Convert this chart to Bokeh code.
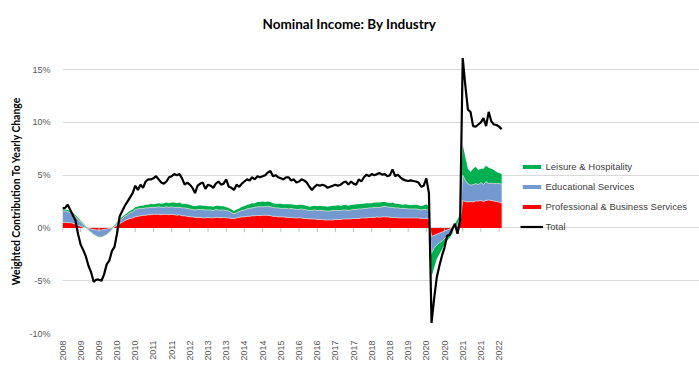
import numpy as np
from bokeh.plotting import figure
from bokeh.models import Range1d, FixedTicker, Legend, LegendItem, ColumnDataSource
from bokeh.embed import file_html
from bokeh.resources import INLINE

# ---- data (monthly, Jun 2008 .. Jul 2022), weighted contribution to YoY change, % ----
tick_labels = ["2008", "2009", "2009", "2010", "2010", "2011", "2011", "2012", "2013",
               "2013", "2014", "2014", "2015", "2016", "2016", "2017", "2017", "2018",
               "2018", "2019", "2020", "2020", "2021", "2021", "2022"]
y_ticks = [-10, -5, 0, 5, 10, 15]

prof = [0.50, 0.55, 0.50, 0.50, 0.45, 0.35, 0.25, 0.15, 0.05, 0.00,
        -0.05, -0.10, -0.15, -0.20, -0.20, -0.20, -0.15, -0.10, -0.05, 0.00,
        0.10, 0.25, 0.40, 0.55, 0.70, 0.80, 0.90, 0.95, 1.05, 1.10,
        1.15, 1.20, 1.20, 1.25, 1.25, 1.30, 1.30, 1.30, 1.25, 1.30,
        1.30, 1.25, 1.30, 1.25, 1.20, 1.25, 1.15, 1.15, 1.10, 1.05,
        1.05, 1.00, 1.00, 1.00, 0.95, 0.95, 1.00, 0.95, 0.95, 1.00,
        1.00, 0.95, 1.00, 0.95, 0.95, 0.90, 0.90, 0.95, 1.00, 1.05,
        1.05, 1.10, 1.10, 1.15, 1.15, 1.20, 1.15, 1.20, 1.20, 1.20,
        1.15, 1.10, 1.10, 1.05, 1.05, 1.05, 1.00, 1.00, 1.00, 0.95,
        0.95, 0.95, 0.95, 0.90, 0.90, 0.85, 0.85, 0.85, 0.80, 0.80,
        0.80, 0.75, 0.75, 0.75, 0.75, 0.80, 0.80, 0.80, 0.85, 0.85,
        0.85, 0.85, 0.90, 0.90, 0.90, 0.95, 0.95, 0.95, 1.00, 1.00,
        1.00, 1.05, 1.00, 1.05, 1.05, 1.05, 1.00, 1.00, 1.00, 0.95,
        0.95, 0.95, 0.95, 0.95, 0.95, 0.95, 0.95, 0.95, 0.90, 0.90,
        0.90, 0.85, -0.80, -0.70, -0.60, -0.50, -0.40, -0.30, -0.20, -0.10,
        0.00, 0.05, 0.15, 0.50, 2.60, 2.50, 2.45, 2.50, 2.45, 2.55,
        2.55, 2.60, 2.50, 2.60, 2.65, 2.60, 2.55, 2.50, 2.45, 2.35]

edu = [1.10, 1.05, 1.05, 0.95, 0.85, 0.70, 0.55, 0.40, 0.30, 0.05,
       -0.15, -0.30, -0.45, -0.55, -0.65, -0.65, -0.60, -0.50, -0.35, -0.15,
       0.05, 0.20, 0.30, 0.35, 0.40, 0.45, 0.55, 0.60, 0.70, 0.70,
       0.70, 0.65, 0.70, 0.65, 0.70, 0.65, 0.65, 0.70, 0.70, 0.65,
       0.70, 0.70, 0.70, 0.70, 0.75, 0.70, 0.75, 0.75, 0.75, 0.75,
       0.70, 0.70, 0.75, 0.75, 0.80, 0.75, 0.70, 0.75, 0.70, 0.75,
       0.70, 0.75, 0.70, 0.70, 0.65, 0.55, 0.45, 0.50, 0.55, 0.60,
       0.65, 0.70, 0.75, 0.75, 0.80, 0.80, 0.85, 0.80, 0.80, 0.85,
       0.85, 0.85, 0.80, 0.85, 0.80, 0.80, 0.85, 0.80, 0.85, 0.85,
       0.80, 0.80, 0.85, 0.85, 0.80, 0.80, 0.80, 0.85, 0.85, 0.85,
       0.85, 0.85, 0.85, 0.85, 0.90, 0.85, 0.85, 0.85, 0.85, 0.85,
       0.80, 0.85, 0.85, 0.85, 0.90, 0.85, 0.90, 0.90, 0.90, 0.90,
       0.95, 0.90, 0.95, 0.95, 1.00, 0.95, 0.95, 0.95, 0.90, 0.95,
       0.90, 0.90, 0.90, 0.85, 0.85, 0.85, 0.85, 0.80, 0.80, 0.85,
       0.85, 0.80, -1.60, -1.20, -1.05, -0.90, -0.85, -0.70, -0.55, -0.45,
       -0.30, 0.10, 0.20, 0.35, 2.40, 2.00, 1.75, 1.55, 1.65, 1.65,
       1.55, 1.70, 1.60, 1.80, 1.55, 1.65, 1.65, 1.70, 1.75, 1.80]

leis = [0.15, 0.15, 0.15, 0.15, 0.15, 0.15, 0.15, 0.12, 0.10, 0.10,
        0.05, 0.03, 0.03, 0.03, 0.03, 0.03, 0.03, 0.05, 0.05, 0.08,
        0.10, 0.12, 0.12, 0.15, 0.15, 0.18, 0.18, 0.20, 0.20, 0.22,
        0.25, 0.25, 0.30, 0.30, 0.35, 0.30, 0.35, 0.35, 0.35, 0.40,
        0.40, 0.40, 0.40, 0.45, 0.40, 0.45, 0.40, 0.40, 0.40, 0.40,
        0.35, 0.35, 0.35, 0.40, 0.35, 0.40, 0.35, 0.35, 0.35, 0.35,
        0.40, 0.35, 0.35, 0.30, 0.30, 0.30, 0.25, 0.30, 0.30, 0.35,
        0.35, 0.40, 0.40, 0.45, 0.40, 0.45, 0.45, 0.50, 0.45, 0.45,
        0.45, 0.40, 0.40, 0.40, 0.45, 0.40, 0.40, 0.45, 0.40, 0.40,
        0.40, 0.45, 0.40, 0.40, 0.40, 0.35, 0.40, 0.40, 0.40, 0.45,
        0.40, 0.45, 0.40, 0.45, 0.45, 0.45, 0.50, 0.45, 0.45, 0.50,
        0.45, 0.50, 0.45, 0.50, 0.45, 0.50, 0.45, 0.50, 0.45, 0.45,
        0.45, 0.45, 0.45, 0.45, 0.40, 0.40, 0.40, 0.45, 0.40, 0.40,
        0.40, 0.35, 0.40, 0.40, 0.35, 0.40, 0.40, 0.40, 0.35, 0.40,
        0.50, 0.40, -2.20, -1.90, -1.30, -1.10, -0.80, -0.55, -0.45, -0.35,
        -0.25, 0.25, 0.45, 0.45, 2.90, 2.20, 1.40, 1.25, 1.50, 1.60,
        1.40, 1.30, 1.50, 1.50, 1.50, 1.35, 1.30, 1.10, 1.00, 0.95]

total = [1.85, 1.9, 2.2, 1.7, 1.2, 0.7, -0.6, -1.6, -2.1, -2.7,
         -3.6, -4.2, -5.1, -4.9, -4.9, -5.0, -4.4, -3.45, -3.1, -2.2,
         -1.8, -0.5, 1.1, 1.6, 2.1, 2.5, 2.9, 3.3, 4.0, 3.6,
         4.1, 3.8, 4.4, 4.6, 4.6, 4.7, 4.9, 4.6, 4.3, 4.2,
         4.4, 4.8, 4.9, 5.1, 5.0, 5.1, 4.7, 4.1, 4.3, 4.1,
         3.8, 3.3, 4.0, 4.2, 4.3, 3.7, 4.1, 4.0, 3.8, 4.2,
         4.4, 4.1, 4.2, 4.6, 3.9, 3.8, 3.6, 4.1, 3.9, 4.2,
         4.4, 4.6, 4.5, 4.8, 4.6, 4.9, 4.8, 4.9, 5.0, 5.25,
         5.4, 4.9, 5.0, 4.8, 4.7, 4.6, 4.8, 4.8, 4.5, 4.6,
         4.3, 4.4, 4.6, 4.5, 4.3, 3.9, 3.6, 3.9, 4.1, 4.0,
         4.1, 4.0, 3.8, 3.9, 4.0, 4.1, 4.0, 4.1, 4.3, 4.4,
         4.1, 4.4, 4.2, 4.1, 4.6, 4.4, 4.8, 5.05, 4.9, 5.1,
         5.0, 5.1, 5.2, 5.05, 5.1, 4.9, 5.0, 5.55, 4.9, 5.05,
         4.8, 4.6, 4.5, 4.45, 4.5, 4.45, 4.4, 4.3, 3.9, 4.0,
         4.7, 3.3, -9.0, -6.7, -4.7, -3.6, -2.65, -1.85, -0.75, -0.65,
         -0.1, 0.4, -0.55, 0.7, 16.1, 13.5, 11.2, 11.0, 9.65, 9.6,
         9.8, 10.0, 10.4, 9.65, 11.0, 10.1, 9.8, 9.75, 9.6, 9.35]

series_names = ["Professional & Business Services", "Educational Services", "Leisure & Hospitality"]
series_colors = ["#ff0000", "#7399d0", "#00b050"]

# ---- layout constants (pixels) ----
W, H = 699, 369
FRAME_LEFT, DATA_RIGHT = 62, 501.2   # data area spans these pixels; legend sits right of it

# ---- build ----
n = len(total)
x = np.arange(n)
c1 = np.array(prof)
c2 = c1 + np.array(edu)
src = ColumnDataSource(dict(x=x, prof=prof, edu=edu, leis=leis, total=total, c1=c1, c2=c2))
tick_idx = list(range(0, n, 7))[:len(tick_labels)]

px_per_unit = (DATA_RIGHT - FRAME_LEFT) / (n - 1)
x_end = (W - FRAME_LEFT) / px_per_unit

p = figure(width=W, height=H, x_range=Range1d(0, x_end), y_range=Range1d(-10, 17),
           output_backend="svg", toolbar_location=None,
           min_border_left=FRAME_LEFT, min_border_right=0, min_border_top=48, min_border_bottom=36)
p.outline_line_color = None
p.background_fill_color = "white"
p.border_fill_color = "white"

areas = p.varea_stack(["prof", "edu", "leis"], x="x", color=series_colors, source=src)
p.line("x", "c1", source=src, line_color="#d6d6d6", line_width=0.8)
p.line("x", "c2", source=src, line_color="#d6d6d6", line_width=0.8)
p.segment(x0=tick_idx, y0=[0] * len(tick_idx), x1=tick_idx, y1=[-0.4] * len(tick_idx),
          line_color="#bfbfbf", line_width=1)
tot = p.line("x", "total", source=src, line_color="#000000", line_width=2.2)

# title
p.title.text = "Nominal Income: By Industry"
p.title.text_font = "Lato"
p.title.text_font_style = "bold"
p.title.text_font_size = "13.5px"
p.title.text_color = "#000000"
p.title.align = "left"
p.title.vertical_align = "top"
p.title.offset = 200
p.title.standoff = 30

# axes
p.xgrid.visible = False
p.ygrid.ticker = FixedTicker(ticks=y_ticks)
p.ygrid.grid_line_color = "#d9d9d9"
p.ygrid.grid_line_width = 1
p.ygrid.bounds = (0, n - 1)

p.yaxis.ticker = FixedTicker(ticks=y_ticks)
p.yaxis.major_label_overrides = {t: f"{t}%" for t in y_ticks}
p.yaxis.axis_line_color = None
p.yaxis.major_tick_line_color = None
p.yaxis.minor_tick_line_color = None
p.yaxis.major_tick_out = 0
p.yaxis.minor_tick_out = 0
p.yaxis.major_label_standoff = 12
p.yaxis.major_label_text_font = "Liberation Sans"
p.yaxis.major_label_text_font_size = "9px"
p.yaxis.major_label_text_color = "#595959"
p.yaxis.axis_label = "Weighted Contribution To Yearly Change"
p.yaxis.axis_label_text_font = "Lato"
p.yaxis.axis_label_text_font_style = "bold"
p.yaxis.axis_label_text_font_size = "10.4px"
p.yaxis.axis_label_text_color = "#000000"
p.yaxis.axis_label_standoff = 4

p.xaxis.ticker = FixedTicker(ticks=tick_idx)
p.xaxis.major_label_overrides = {t: lab for t, lab in zip(tick_idx, tick_labels)}
p.xaxis.major_label_orientation = np.pi / 2
p.xaxis.axis_line_color = None
p.xaxis.major_tick_line_color = None
p.xaxis.minor_tick_line_color = None
p.xaxis.major_tick_out = 0
p.xaxis.minor_tick_out = 0
p.xaxis.major_label_standoff = 7
p.xaxis.major_label_text_font = "Liberation Sans"
p.xaxis.major_label_text_font_size = "9px"
p.xaxis.major_label_text_color = "#595959"

# legend (inside the wide frame, to the right of the data)
items = [LegendItem(label=series_names[2], renderers=[areas[2]]),
         LegendItem(label=series_names[1], renderers=[areas[1]]),
         LegendItem(label=series_names[0], renderers=[areas[0]]),
         LegendItem(label="Total", renderers=[tot])]
legend = Legend(items=items, location=(457.5, 101), glyph_width=23, glyph_height=5,
                label_height=11, spacing=9, padding=0, margin=0, label_standoff=3,
                border_line_color=None, background_fill_alpha=0,
                label_text_font="Liberation Sans", label_text_font_size="9.5px",
                label_text_color="#404040")
p.add_layout(legend)

open("out.html", "w").write(file_html(p, INLINE))
